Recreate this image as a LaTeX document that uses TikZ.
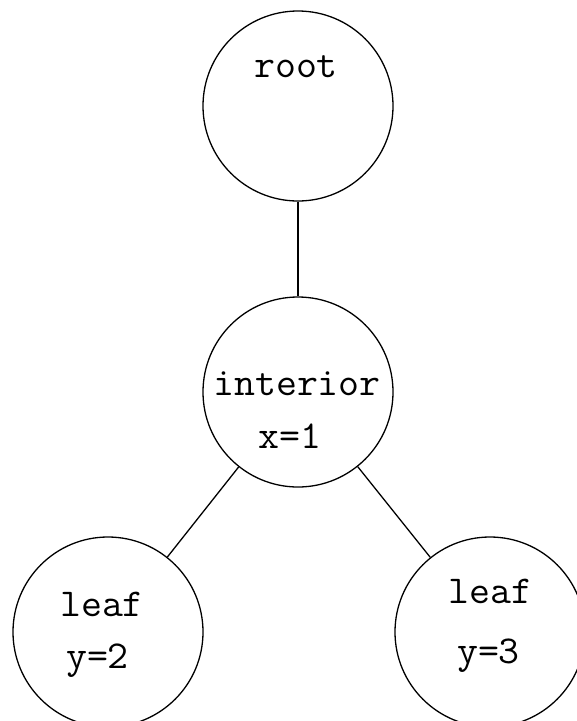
\documentclass[tikz,border=0pt]{standalone}
\usepackage{fontspec}
\newfontfamily\monofont[FakeStretch=1.03]{Latin Modern Mono}
\begin{document}
\begin{tikzpicture}[x=1pt,y=-1pt,
  treenode/.style={draw=black,line width=1.3pt,circle,minimum size=190pt,inner sep=0pt},
  lbl/.style={font=\monofont\fontsize{39.5}{44}\selectfont,anchor=base,inner sep=0pt},
  edge/.style={line width=1.3pt,draw=black}]
\useasboundingbox (0,0) rectangle (577,721);
\clip (0,0) rectangle (577,721);
\node[treenode] (root) at (298,106) {};
\node[treenode] (interior) at (298,392) {};
\node[treenode] (leafa) at (108,632) {};
\node[treenode] (leafb) at (490,632) {};
\draw[edge] (root) -- (interior);
\draw[edge] (interior) -- (leafa);
\draw[edge] (interior) -- (leafb);
\node[lbl] (troot) at (296,77) {root};
\node[lbl] (tint) at (297,395) {interior};
\node[lbl] (tx) at (290,448) {x=1};
\node[lbl] (tla) at (102,616) {leaf};
\node[lbl] (tya) at (97.5,668) {y=2};
\node[lbl] (tlb) at (490.5,603) {leaf};
\node[lbl] (tyb) at (488.5,663) {y=3};
\end{tikzpicture}
\end{document}
